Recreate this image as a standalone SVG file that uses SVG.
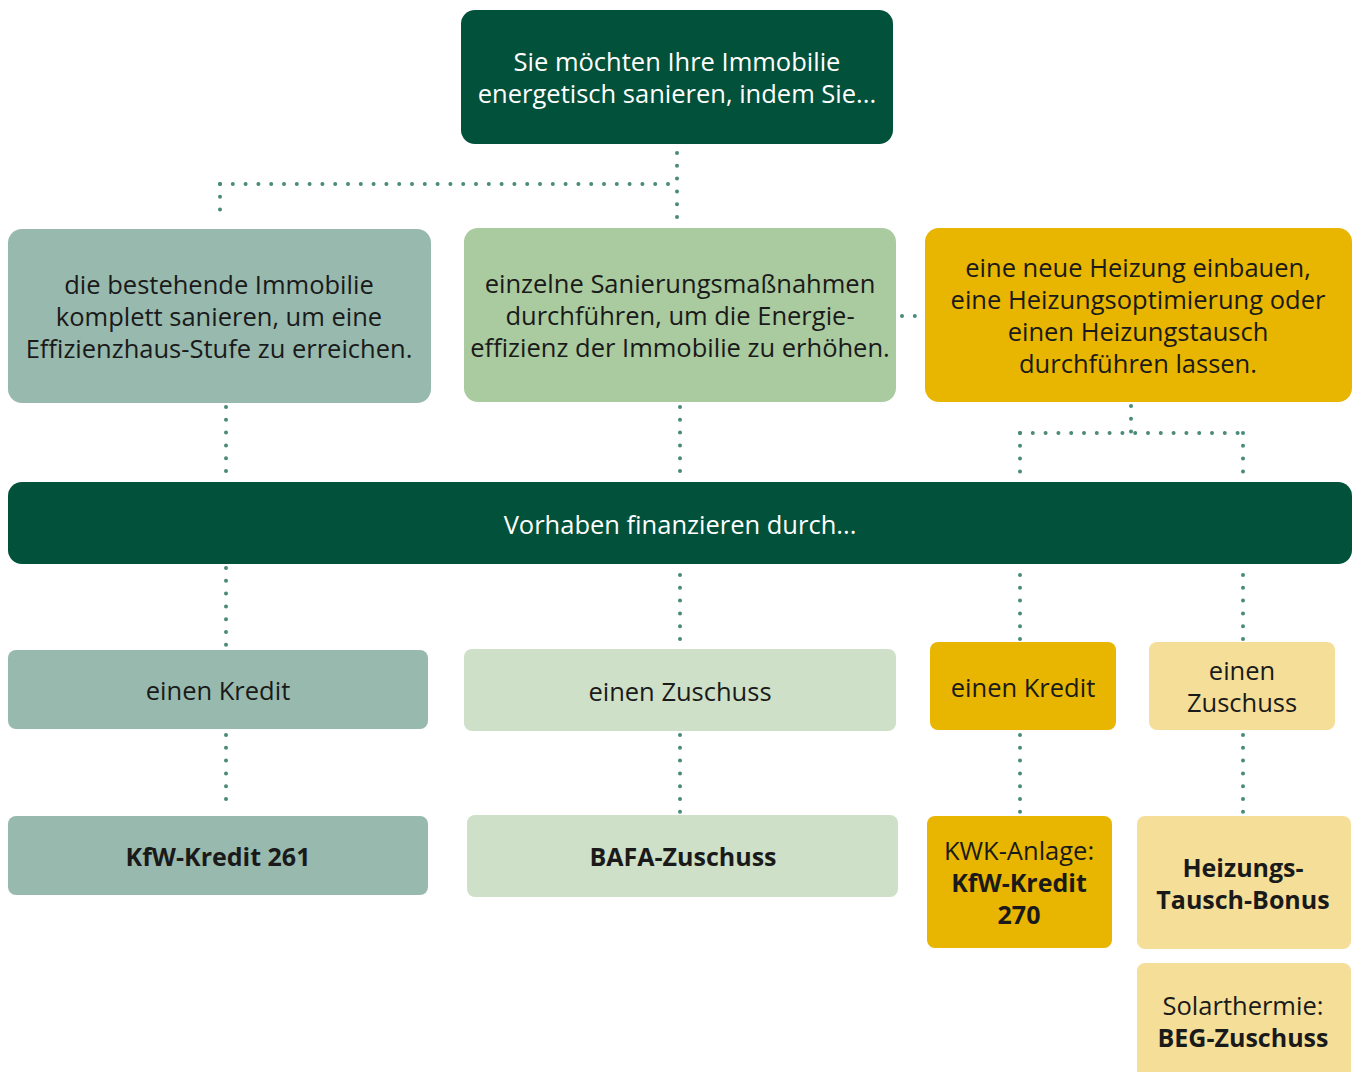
<svg xmlns="http://www.w3.org/2000/svg" width="1354" height="1072" viewBox="0 0 1354 1072">
<style>
text{font-family:"Open Sans","Liberation Sans",sans-serif;font-size:25.5px;text-anchor:middle;fill:#1a1a1a}
.w{fill:#ffffff}
.b{font-weight:700;font-size:25px}
.dot{stroke:#4a8a78;stroke-width:4;stroke-linecap:round;stroke-dasharray:0 12.8;fill:none}
.dk{fill:#02513a}
.sg{fill:#98b9ae}
.lg{fill:#aaca9f}
.pg{fill:#cfe0c8}
.yl{fill:#e8b500}
.py{fill:#f5df98}
</style>
<rect width="1354" height="1072" fill="#ffffff"/>
<g id="connectors">
<path class="dot" d="M677 153 V219"/>
<path class="dot" d="M220 184 H677"/>
<path class="dot" d="M220 184 V219"/>
<path class="dot" d="M226 407 V477"/>
<path class="dot" d="M680 407 V472"/>
<path class="dot" d="M902 316 H915"/>
<path class="dot" d="M1131 406 V433"/>
<path class="dot" d="M1020 433 H1243"/>
<path class="dot" d="M1020 433 V472"/>
<path class="dot" d="M1243 433 V472"/>
<path class="dot" d="M226 568 V645"/>
<path class="dot" d="M680 575 V640"/>
<path class="dot" d="M1020 575 V640"/>
<path class="dot" d="M1243 575 V640"/>
<path class="dot" d="M226 735 V805"/>
<path class="dot" d="M680 735 V812"/>
<path class="dot" d="M1020 735 V812"/>
<path class="dot" d="M1243 735 V812"/>
</g>
<g id="n-start"><rect class="dk" x="461" y="10" width="432" height="134" rx="14"/><text class="w" x="677" y="71">Sie möchten Ihre Immobilie</text><text class="w" x="677" y="103">energetisch sanieren, indem Sie...</text></g>
<g id="n-komplett"><rect class="sg" x="8" y="229" width="423" height="174" rx="14"/><text x="219" y="294">die bestehende Immobilie</text><text x="219" y="326">komplett sanieren, um eine</text><text x="219" y="358">Effizienzhaus-Stufe zu erreichen.</text></g>
<g id="n-einzeln"><rect class="lg" x="464" y="228" width="432" height="174" rx="14"/><text x="680" y="293">einzelne Sanierungsmaßnahmen</text><text x="680" y="325">durchführen, um die Energie-</text><text x="680" y="357">effizienz der Immobilie zu erhöhen.</text></g>
<g id="n-heizung"><rect class="yl" x="925" y="228" width="427" height="174" rx="14"/><text x="1138" y="277">eine neue Heizung einbauen,</text><text x="1138" y="309">eine Heizungsoptimierung oder</text><text x="1138" y="341">einen Heizungstausch</text><text x="1138" y="373">durchführen lassen.</text></g>
<g id="n-finanzieren"><rect class="dk" x="8" y="482" width="1344" height="82" rx="14"/><text class="w" x="680" y="534">Vorhaben finanzieren durch...</text></g>
<g id="n-kredit1"><rect class="sg" x="8" y="650" width="420" height="79" rx="8"/><text x="218" y="700">einen Kredit</text></g>
<g id="n-zuschuss1"><rect class="pg" x="464" y="649" width="432" height="82" rx="8"/><text x="680" y="701">einen Zuschuss</text></g>
<g id="n-kredit2"><rect class="yl" x="930" y="642" width="186" height="88" rx="8"/><text x="1023" y="697">einen Kredit</text></g>
<g id="n-zuschuss2"><rect class="py" x="1149" y="642" width="186" height="88" rx="8"/><text x="1242" y="680">einen</text><text x="1242" y="712">Zuschuss</text></g>
<g id="n-kfw261"><rect class="sg" x="8" y="816" width="420" height="79" rx="8"/><text class="b" x="218" y="866">KfW-Kredit 261</text></g>
<g id="n-bafa"><rect class="pg" x="467" y="815" width="431" height="82" rx="8"/><text class="b" x="683" y="866">BAFA-Zuschuss</text></g>
<g id="n-kfw270"><rect class="yl" x="927" y="816" width="185" height="132" rx="8"/><text x="1019" y="860">KWK-Anlage:</text><text class="b" x="1019" y="892">KfW-Kredit</text><text class="b" x="1019" y="924">270</text></g>
<g id="n-bonus"><rect class="py" x="1137" y="816" width="214" height="133" rx="8"/><text class="b" x="1243" y="877">Heizungs-</text><text class="b" x="1243" y="909">Tausch-Bonus</text></g>
<g id="n-beg"><rect class="py" x="1137" y="963" width="214" height="125" rx="8"/><text x="1243" y="1015">Solarthermie:</text><text class="b" x="1243" y="1047">BEG-Zuschuss</text></g>
</svg>
